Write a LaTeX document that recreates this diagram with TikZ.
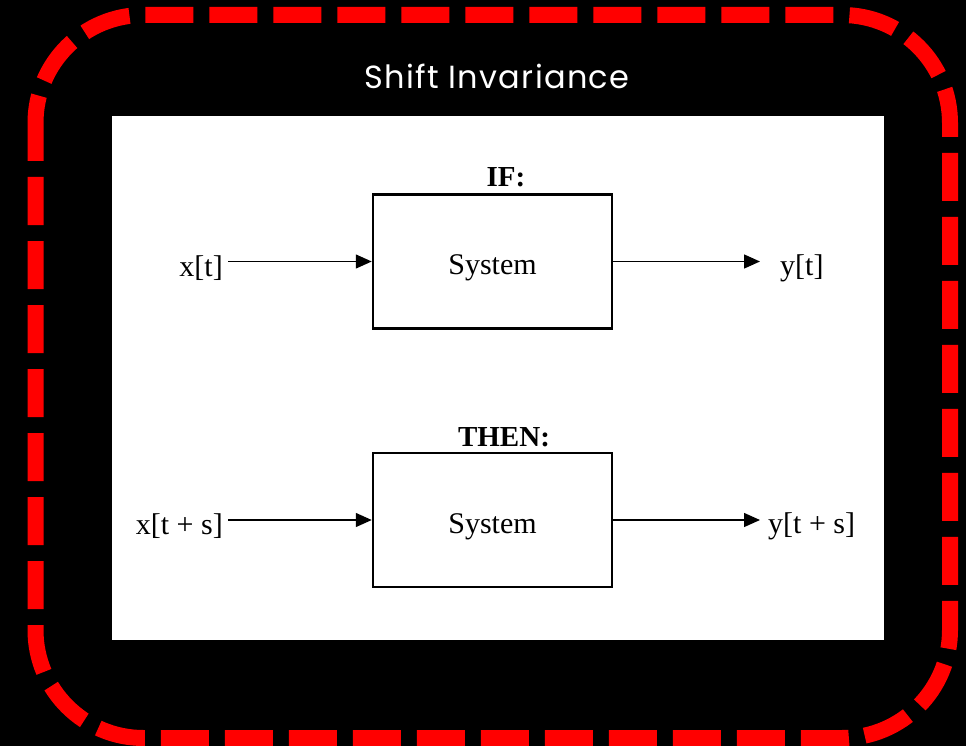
\documentclass[tikz,border=0pt]{standalone}
\usepackage{fontspec}
\setmainfont{Liberation Serif}
\newfontfamily\titlefont{Poppins}[LetterSpace=4]
\usetikzlibrary{arrows.meta}
\tikzset{
  sysbox/.style={draw=black,line width=2.5pt,minimum width=239pt,minimum height=134pt,inner sep=0pt,text height=26pt,text depth=0pt,font=\fontsize{30}{36}\selectfont},
  lbl/.style={font=\fontsize{30}{36}\selectfont,inner sep=0pt},
  hdr/.style={font=\fontsize{29}{34}\selectfont\bfseries,inner sep=0pt,anchor=base},
  sig/.style={line width=1.4pt,-{Triangle[length=16pt,width=14pt]}},
}
\begin{document}
\begin{tikzpicture}[x=1pt,y=-1pt]
\useasboundingbox (0,0) rectangle (966,746);
\fill[black] (0,0) rectangle (966,746);
\draw[red,line width=16pt,rounded corners=108pt,dash pattern=on 48pt off 16pt,dash phase=10pt] (35.5,15) rectangle (950,738);
\node[text=white,font=\titlefont\fontsize{32}{36}\selectfont,anchor=base,inner sep=0pt] (title) at (497,89) {Shift Invariance};
\node[fill=white,minimum width=772pt,minimum height=524pt,inner sep=0pt,anchor=north west] (panel) at (112,116) {};
% top row
\node[sysbox] (sys1) at (492.5,261.5) {System};
\node[hdr] (if) at (506,187) {IF:};
\node[lbl,anchor=east] (x1) at (223,268) {x[t]};
\node[lbl,anchor=west] (y1) at (780,268) {y[t]};
\draw[sig] (x1.east |- sys1.west) ++(5,0) coordinate (x1s) -- (sys1.west);
\coordinate (y1e) at (y1.west |- sys1.east);
\draw[sig] (sys1.east) -- ([xshift=-20pt]y1e);
% bottom row
\node[sysbox] (sys2) at (492.5,520) {System};
\node[hdr] (then) at (504,446) {THEN:};
\node[lbl,anchor=east] (x2) at (223,526) {x[t + s]};
\node[lbl,anchor=west] (y2) at (768,526) {y[t + s]};
\draw[sig] (x2.east |- sys2.west) ++(5,0) coordinate (x2s) -- (sys2.west);
\coordinate (y2e) at (y2.west |- sys2.east);
\draw[sig] (sys2.east) -- ([xshift=-8pt]y2e);
\end{tikzpicture}
\end{document}
